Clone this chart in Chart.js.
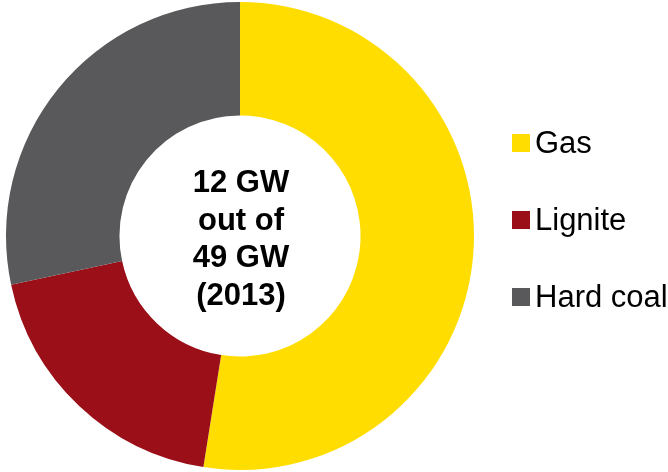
<!DOCTYPE html>
<html>
<head>
<meta charset="utf-8">
<script src="https://cdn.jsdelivr.net/npm/chart.js@4/dist/chart.umd.min.js"></script>
<style>
  html, body { margin: 0; padding: 0; background: #fff; }
  #wrap { width: 668px; height: 472px; position: relative; }
</style>
</head>
<body>
<div id="wrap"><canvas id="chart" width="668" height="472"></canvas></div>
<script>
const labels = ['Gas', 'Lignite', 'Hard coal'];
const capacityGW = [6.3, 2.3, 3.4];
const colors = ['#FFDD00', '#9B0F19', '#59595B'];
const centerLines = ['12 GW', 'out of', '49 GW', '(2013)'];

// center text + legend drawn on the canvas
const overlay = {
    id: 'overlay',
    afterDraw(chart) {
        const ctx = chart.ctx;
        const meta = chart.getDatasetMeta(0).data[0];
        const cx = meta.x + 1, cy = meta.y;

        ctx.save();
        ctx.fillStyle = '#000';
        ctx.font = 'bold 31px "Liberation Sans", Arial, sans-serif';
        ctx.textAlign = 'center';
        ctx.textBaseline = 'alphabetic';
        const lineH = 37.5;
        const top = cy - 44;
        centerLines.forEach((t, i) => ctx.fillText(t, cx, top + i * lineH));

        // legend
        ctx.font = '31px "Liberation Sans", Arial, sans-serif';
        ctx.textAlign = 'left';
        ctx.textBaseline = 'middle';
        labels.forEach((lab, i) => {
            const y = 143 + i * 77;
            ctx.fillStyle = colors[i];
            ctx.fillRect(512, y - 9, 18, 18);
            ctx.fillStyle = '#000';
            ctx.fillText(lab, 535, y + 1);
        });
        ctx.restore();
    }
};

new Chart(document.getElementById('chart'), {
    type: 'doughnut',
    data: {
        labels: labels,
        datasets: [{
            data: capacityGW,
            backgroundColor: colors,
            borderWidth: 0
        }]
    },
    options: {
        responsive: false,
        animation: false,
        cutout: '51.5%',
        layout: { padding: { left: 6, top: 2, bottom: 2, right: 194 } },
        plugins: {
            legend: { display: false },
            tooltip: { enabled: false }
        }
    },
    plugins: [overlay]
});
</script>
</body>
</html>
